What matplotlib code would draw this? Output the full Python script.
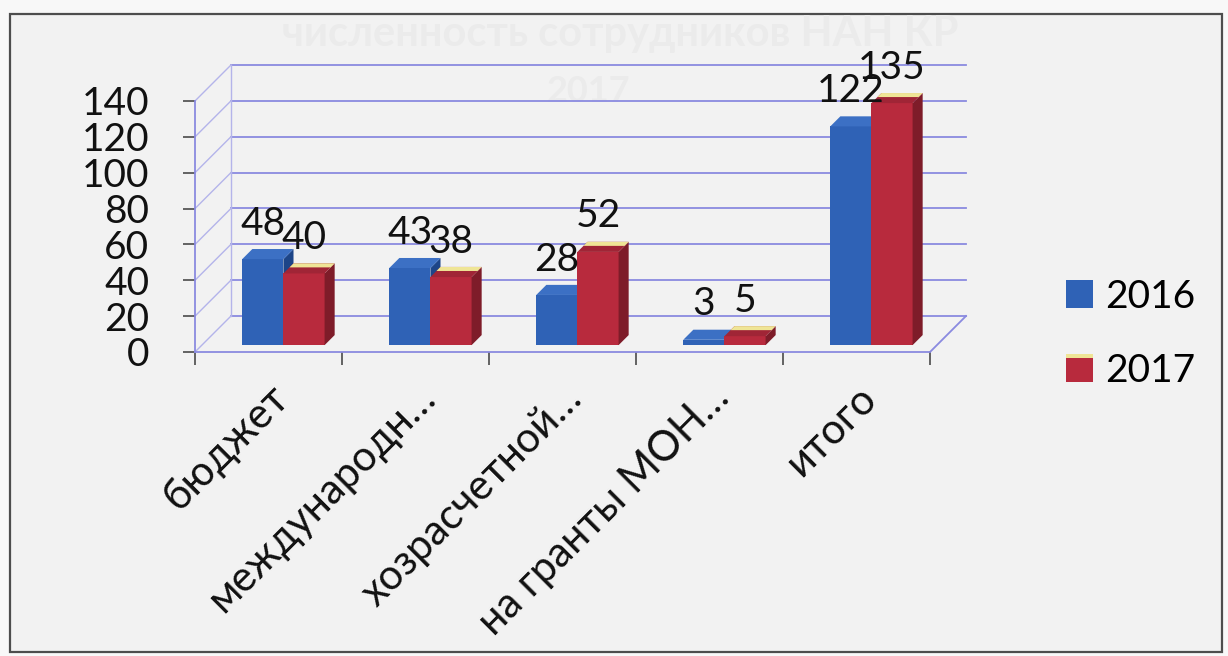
import matplotlib
matplotlib.use("Agg")
import matplotlib.pyplot as plt
from matplotlib.patches import Polygon, Rectangle, Patch
from matplotlib.legend_handler import HandlerPatch
from matplotlib import font_manager
from matplotlib.ft2font import FT2Font

# ---- data -------------------------------------------------------------
categories = ["бюджет", "международн…", "хозрасчетной…", "на гранты МОН…", "итого"]
series_names = ["2016", "2017"]
values_2016 = [48, 43, 28, 3, 122]
values_2017 = [40, 38, 52, 5, 135]
y_ticks = [0, 20, 40, 60, 80, 100, 120, 140]
title_lines = ["численность сотрудников НАН КР", "2017"]


# ---- font: first family that has Cyrillic glyphs ---------------------
def pick_family(cands):
    for fam in cands:
        try:
            path = font_manager.findfont(font_manager.FontProperties(family=fam),
                                         fallback_to_default=False)
            if FT2Font(path).get_char_index(ord("ж")):
                return fam
        except Exception:
            continue
    return "DejaVu Sans"


FAMILY = pick_family(["Lato", "Roboto", "Open Sans", "Noto Sans"])
plt.rcParams["font.family"] = [FAMILY, "DejaVu Sans"]

# ---- colours ----------------------------------------------------------
BG_OUT = "#f8f8f8"
BG_IN = "#f2f2f2"
GRID = "#8a8ae0"
WALL = "#b4b4ea"
TICK = "#4a4a4a"
FACE = {"2016": ("#2f62b6", "#1d4588", "#3c70c4"),
        "2017": ("#b82a3d", "#7e1c29", "#a02536")}
TOP_HIGHLIGHT = "#efe596"

W, H = 1228, 656
fig = plt.figure(figsize=(W / 100, H / 100), dpi=100, facecolor=BG_OUT)

# outer frame of the chart area
fig.patches.append(Rectangle((10 / W, 4 / H), 1212 / W, 638 / H,
                             transform=fig.transFigure, facecolor=BG_IN,
                             edgecolor="#4d4d4d", linewidth=1.6, zorder=-5))

# faded title
fig.text(620 / W, 1 - 34 / H, title_lines[0], ha="center", va="center",
         fontsize=30, color="#ebebeb", fontweight="bold", zorder=-4)
fig.text(588 / W, 1 - 92 / H, title_lines[1], ha="center", va="center",
         fontsize=26, color="#ebebeb", fontweight="bold", zorder=-4)

ax = fig.add_axes([0, 0, 1, 1])
ax.set_facecolor("none")
ax.set_zorder(1)

# data <-> pixel layout of the plot
X0_PX, CAT_PX, Y0_PX, UNIT_PX = 195, 147, 352, 1.793
ax.set_xlim(-X0_PX / CAT_PX, (W - X0_PX) / CAT_PX)
ax.set_ylim((Y0_PX - H) / UNIT_PX, Y0_PX / UNIT_PX)

DX = 36 / CAT_PX        # depth offset of the back wall, in category units
DY = 36 / UNIT_PX       # depth offset of the back wall, in value units
n = len(categories)
top = y_ticks[-1]

# back wall gridlines and side wall diagonals
for v in y_ticks:
    ax.plot([DX, n + DX], [v + DY, v + DY], color=GRID, lw=1.3, zorder=1)
    ax.plot([0, DX], [v, v + DY], color=WALL, lw=1.0, zorder=1)
ax.plot([DX, DX], [DY, top + DY], color=WALL, lw=1.0, zorder=1)
ax.plot([n, n + DX], [0, DY], color=GRID, lw=1.3, zorder=1)

# 3D bars
D0, D1 = 0.19, 0.47
BAR_W, BAR_START = 0.28, 0.275
fs = 28
for i in range(n):
    for s, (name, vals) in enumerate(zip(series_names, [values_2016, values_2017])):
        v = vals[i]
        front, side, topc = FACE[name]
        x0 = i + BAR_START + s * BAR_W
        fx, fy = D0 * DX, D0 * DY
        bx, by = D1 * DX, D1 * DY
        ax.bar(x0 + fx, v, width=BAR_W, bottom=fy, align="edge",
               color=front, edgecolor="none", zorder=3)
        ax.add_patch(Polygon([(x0 + BAR_W + fx, fy), (x0 + BAR_W + bx, by),
                              (x0 + BAR_W + bx, v + by), (x0 + BAR_W + fx, v + fy)],
                             closed=True, facecolor=side, edgecolor="none", zorder=3))
        ax.add_patch(Polygon([(x0 + fx, v + fy), (x0 + BAR_W + fx, v + fy),
                              (x0 + BAR_W + bx, v + by), (x0 + bx, v + by)],
                             closed=True, facecolor=topc, edgecolor="none", zorder=3))
        if name == "2017":
            mx = (D0 + 0.6 * (D1 - D0)) * DX
            my = (D0 + 0.6 * (D1 - D0)) * DY
            ax.add_patch(Polygon([(x0 + mx, v + my), (x0 + BAR_W + mx, v + my),
                                  (x0 + BAR_W + bx, v + by), (x0 + bx, v + by)],
                                 closed=True, facecolor=TOP_HIGHLIGHT,
                                 edgecolor="none", zorder=3))
        ax.text(x0 + fx + BAR_W / 2, v + by + 8, str(v), ha="center",
                va="baseline", fontsize=fs, color="#111111", zorder=5)

# axes: value axis on the front-left edge, category axis on the floor front
for side_name in ("top", "right"):
    ax.spines[side_name].set_visible(False)
ax.spines["left"].set_position(("data", 0))
ax.spines["left"].set_bounds(0, top)
ax.spines["left"].set_color(GRID)
ax.spines["bottom"].set_position(("data", 0))
ax.spines["bottom"].set_bounds(0, n)
ax.spines["bottom"].set_color(GRID)
for sp in ("left", "bottom"):
    ax.spines[sp].set_linewidth(1.3)
    ax.spines[sp].set_zorder(2)

ax.set_yticks(y_ticks)
ax.set_yticklabels([str(t) for t in y_ticks])
ax.tick_params(axis="y", direction="out", length=9, width=1.2, color=TICK,
               pad=24, labelsize=fs, labelcolor="#111111")

ax.set_xticks(range(n + 1))
ax.set_xticklabels([])
ax.set_xticks([i + 0.5 for i in range(n)], minor=True)
ax.set_xticklabels(categories, minor=True)
ax.tick_params(axis="x", which="major", direction="out", length=9, width=1.2,
               color=TICK)
ax.tick_params(axis="x", which="minor", length=0, pad=19, labelsize=30,
               labelcolor="#111111")
for lbl in ax.get_xticklabels(minor=True):
    lbl.set_rotation(45)
    lbl.set_ha("right")
    lbl.set_va("top")
    lbl.set_rotation_mode("anchor")


# legend: 2017 key carries the same light top edge as its bars
class TopEdgeHandler(HandlerPatch):
    def __init__(self, edge_color=None):
        super().__init__()
        self.edge_color = edge_color

    def create_artists(self, legend, orig_handle, xdescent, ydescent, width,
                       height, fontsize, trans):
        body = Rectangle((-xdescent, -ydescent), width, height,
                         facecolor=orig_handle.get_facecolor(), edgecolor="none",
                         transform=trans)
        arts = [body]
        if self.edge_color:
            arts.append(Rectangle((-xdescent, -ydescent + height * 0.9), width,
                                  height * 0.14, facecolor=self.edge_color,
                                  edgecolor="none", transform=trans))
        return arts


handles = [Patch(facecolor=FACE[nm][0], edgecolor="none") for nm in series_names]
fig.legend(handles, series_names, loc="center left",
           bbox_to_anchor=(1066 / W, 1 - 334 / H), frameon=False, fontsize=fs,
           handlelength=0.7, handleheight=0.7, handletextpad=0.3,
           labelspacing=1.0, borderpad=0, borderaxespad=0,
           handler_map={handles[0]: TopEdgeHandler(),
                        handles[1]: TopEdgeHandler(TOP_HIGHLIGHT)})

fig.savefig("out.png", dpi=100, facecolor=BG_OUT)
